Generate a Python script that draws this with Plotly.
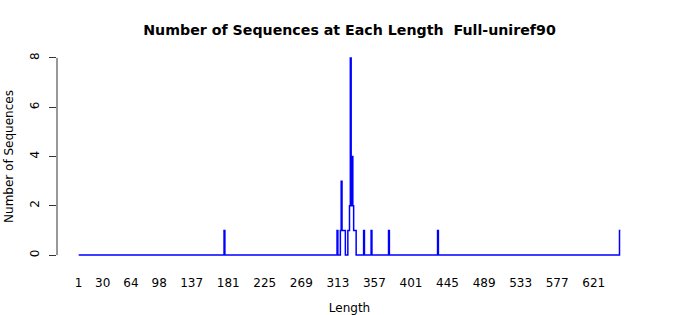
import numpy as np
import plotly.graph_objects as go

# Sequence lengths with nonzero counts, and their counts
lengths = [177, 313, 317, 318, 319, 320, 321, 322, 326, 327, 328, 329, 330, 331, 332, 333, 334, 335, 345, 354, 375, 434, 653]
counts = [1, 1, 1, 3, 1, 1, 1, 1, 1, 1, 2, 8, 2, 4, 2, 1, 1, 1, 1, 1, 1, 1, 1]
max_length = 653

x_tickvals = [1, 30, 64, 98, 137, 181, 225, 269, 313, 357, 401, 445, 489, 533, 577, 621]
y_tickvals = [0, 2, 4, 6, 8]

# Full series: every length 1..max_length (zero where no sequence)
all_len = np.arange(1, max_length + 1)
all_cnt = np.zeros(max_length, dtype=int)
for L, c in zip(lengths, counts):
    all_cnt[L - 1] = c

fig = go.Figure()
fig.add_trace(go.Scatter(x=all_len, y=all_cnt, mode="lines",
                         line=dict(color="#0000ff", width=1.5, shape="vh"), hoverinfo="x+y"))

FONT = "DejaVu Sans"
xpad = 0.04 * (max_length - 1)
fig.update_layout(
    width=700, height=315,
    margin=dict(l=57, r=58, t=50, b=52),
    plot_bgcolor="white", paper_bgcolor="white",
    showlegend=False,
    font=dict(family=FONT, size=12, color="black"),
    title=dict(text="<b>Number of Sequences at Each Length\u00a0 Full-uniref90</b>",
               x=0.5, xref="paper", xanchor="center", y=0.905, yanchor="middle",
               font=dict(family=FONT, size=14.2, color="black")),
    xaxis=dict(range=[1 - xpad, max_length + xpad], tickmode="array", tickvals=x_tickvals,
               ticktext=[str(v) for v in x_tickvals],
               showgrid=False, zeroline=False, showline=False, automargin=False,
               ticks="outside", ticklen=9, tickcolor="rgba(0,0,0,0)",
               tickfont=dict(size=12),
               title=dict(text="Length", standoff=14, font=dict(size=12))),
    yaxis=dict(range=[-0.32, 8.32], tickmode="array", tickvals=y_tickvals,
               ticktext=[str(v) for v in y_tickvals],
               showgrid=False, zeroline=False, showline=False, automargin=False,
               ticks="outside", ticklen=7, tickwidth=1, tickcolor="#333",
               tickangle=-90, tickfont=dict(size=12), ticklabelstandoff=5,
               title=dict(text="Number of Sequences", standoff=12, font=dict(size=12))),
)
fig.add_shape(type="line", xref="paper", yref="y", x0=0, x1=0, y0=0, y1=8,
              line=dict(color="#333", width=1))

fig.write_html("out.html")
